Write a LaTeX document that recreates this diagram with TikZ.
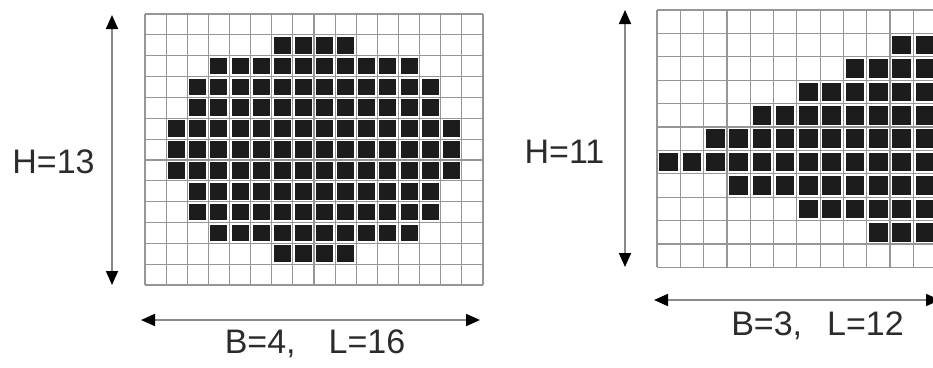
\documentclass[tikz,border=0pt]{standalone}
\usepackage{fontspec}
\setmainfont{Liberation Sans}
\usepackage{xcolor}
\usetikzlibrary{arrows.meta}
\definecolor{gridgray}{HTML}{969696}
\definecolor{cellblack}{HTML}{1C1C1C}
\definecolor{textgray}{HTML}{2B2B2B}
\definecolor{arrowgray}{HTML}{8A8A8A}

\begin{document}
\begin{tikzpicture}[x=1pt,y=-1pt,
    gridline/.style={gridgray,line width=1.2pt},
    cell/.style={fill=cellblack},
    dimarrow/.style={arrowgray,line width=1.8pt,
        {Triangle[color=black,length=14pt,width=12pt]}-{Triangle[color=black,length=14pt,width=12pt]}},
    dimlabel/.style={textgray,font=\fontsize{34}{40}\selectfont,inner sep=0pt,anchor=base}]
    \useasboundingbox (0,0) rectangle (933,367);
    \clip (0,0) rectangle (933,367);
    % left blob, 16 x 13 cells
    \begin{scope}[shift={(145,14)},x=21.125pt,y=-20.85pt]
        \foreach \i in {0,...,16} \draw[gridline] (\i,0) -- (\i,13);
        \foreach \j in {0,...,13} \draw[gridline] (0,\j) -- (16,\j);
        \foreach \r/\a/\b in {1/6/9,2/3/12,3/2/13,4/2/13,5/1/14,6/1/14,
                              7/1/14,8/2/13,9/2/13,10/3/12,11/6/9} {
            \foreach \c in {\a,...,\b}
                \fill[cell] (\c+0.1,\r+0.1) rectangle (\c+0.9,\r+0.9);
        }
    \end{scope}
    % right blob, 12 x 11 cells
    \begin{scope}[shift={(657,10)},x=23.3pt,y=-23.4pt]
        \foreach \i in {0,...,12} \draw[gridline] (\i,0) -- (\i,11);
        \foreach \j in {0,...,11} \draw[gridline] (0,\j) -- (12,\j);
        \foreach \r/\a/\b in {1/10/11,2/8/11,3/6/11,4/4/11,5/2/11,6/0/11,
                              7/3/11,8/6/11,9/9/11} {
            \foreach \c in {\a,...,\b}
                \fill[cell] (\c+0.1,\r+0.1) rectangle (\c+0.9,\r+0.9);
        }
    \end{scope}
    % dimensions, left
    \coordinate (lTop) at (112,15);
    \coordinate (lBot) at (112,285);
    \coordinate (lLeft) at (141,320);
    \coordinate (lRight) at (480,320);
    \draw[dimarrow] (lTop) -- (lBot);
    \draw[dimarrow] (lLeft) -- (lRight);
    \node[dimlabel] (lH) at (53.5,173) {H=13};
    \node[dimlabel] (lBL) at (315,353) {B=4,\hspace{33pt}L=16};
    % dimensions, right
    \coordinate (rTop) at (625,10);
    \coordinate (rBot) at (625,267);
    \coordinate (rLeft) at (654,300);
    \coordinate (rRight) at (940,300);
    \draw[dimarrow] (rTop) -- (rBot);
    \draw[dimarrow] (rLeft) -- (rRight);
    \node[dimlabel] (rH) at (564.5,163) {H=11};
    \node[dimlabel] (rBL) at (817.5,335) {B=3,\hspace{25pt}L=12};
\end{tikzpicture}
\end{document}
